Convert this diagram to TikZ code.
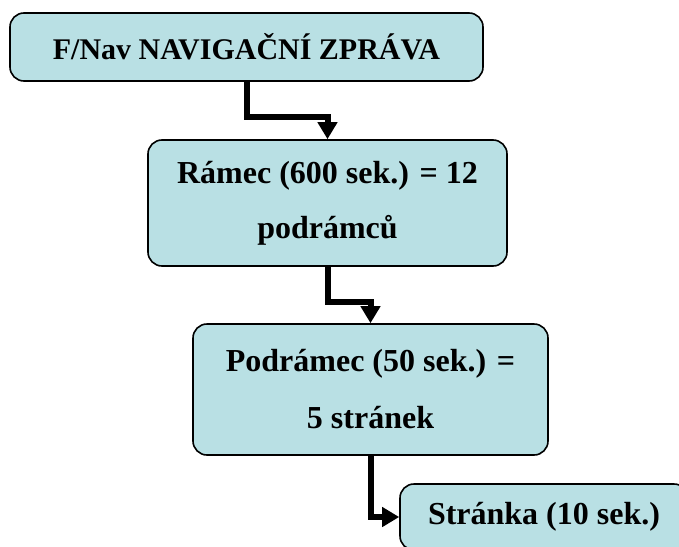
\documentclass[tikz,border=0pt]{standalone}
\usepackage{fontspec}
\setmainfont{Liberation Serif}
\usetikzlibrary{arrows.meta}
\definecolor{boxfill}{RGB}{185,224,228}

\begin{document}
\begin{tikzpicture}[x=1pt, y=-1pt,
    box/.style={draw=black, line width=1.6pt, rounded corners=14pt, fill=boxfill,
      align=center, inner sep=0pt, font=\bfseries\fontsize{32}{55}\selectfont},
    link/.style={line width=6pt, -{Triangle[width=19pt,length=17pt]}}]
      % Fix the page size
      \useasboundingbox (0,0) rectangle (679,546);
      \clip (0,0) rectangle (679,546);

      % Draw the boxes
      \node[box, minimum width=473pt, minimum height=68pt,
        font=\bfseries\fontsize{30}{36}\selectfont] (zprava) at (246.5,47) {F/Nav NAVIGAČNÍ ZPRÁVA};
      \node[box, minimum width=359pt, minimum height=126pt] (ramec) at (327.5,203)
        {Rámec (600 sek.) = 12\\podrámců};
      \node[box, minimum width=355pt, minimum height=131pt,
        font=\bfseries\fontsize{32}{57}\selectfont] (podramec) at (370.5,389.5)
        {Podrámec (50 sek.) =\\5 stránek};
      \node[box, minimum width=288pt, minimum height=66pt] (stranka) at (544,517) {Stránka (10 sek.)};

      % Draw the connectors
      \draw[link] (zprava.south) -- ++(0,35) -| (ramec.north);
      \draw[link] (ramec.south) -- ++(0,35) -| (podramec.north);
      \draw[link] (podramec.south) |- (stranka.west);
    \end{tikzpicture}
\end{document}
